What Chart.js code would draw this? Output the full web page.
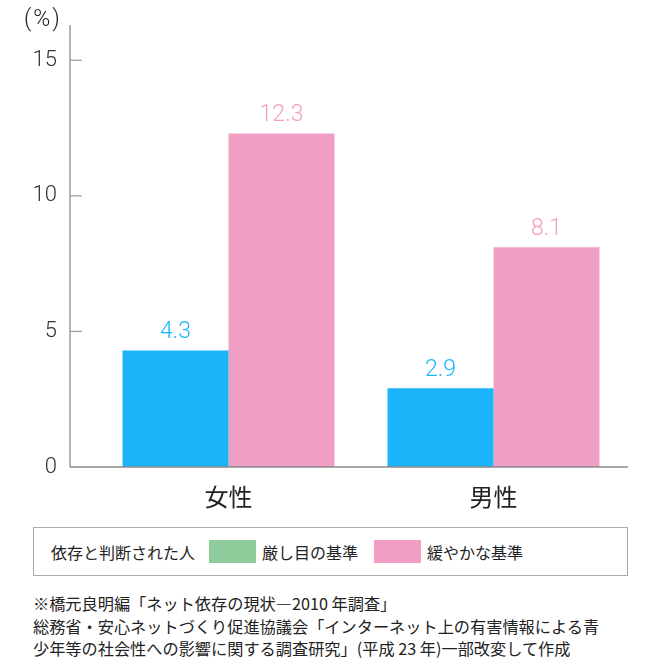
<!DOCTYPE html>
<html>
<head>
<meta charset="utf-8">
<script src="https://cdn.jsdelivr.net/npm/chart.js@4"></script>
<style>
  body { margin: 0; background: #fff; font-family: "Noto Sans CJK JP", sans-serif; color: #222; }
  #wrap { position: relative; width: 651px; height: 515px; }
  #unit { position: absolute; left: 24px; top: 5px; font-size: 23px; letter-spacing: 2px; font-family: Roboto, sans-serif; font-weight: 300; color: #222; }
  #legend { position: absolute; left: 33px; top: 527px; width: 593px; height: 47px; border: 1.5px solid #aaa;
            display: flex; align-items: center; font-size: 16px; }
  #legend .sw { display: inline-block; width: 47px; height: 23px; margin-right: 6px; }
  #note { position: absolute; left: 33px; top: 592px; font-size: 16.2px; line-height: 22.5px; color: #222; }
</style>
</head>
<body>
<div id="wrap">
  <div id="unit">(%)</div>
  <canvas id="grafico" width="651" height="515"></canvas>
</div>
<div id="legend">
  <span style="margin-left:17px; margin-right:14px;">依存と判断された人</span>
  <span class="sw" style="background:#8dcb9b"></span><span style="margin-right:16px;">厳し目の基準</span>
  <span class="sw" style="background:#f19ec4"></span><span>緩やかな基準</span>
</div>
<div id="note">
  ※橋元良明編「ネット依存の現状―2010 年調査」<br>
  総務省・安心ネットづくり促進協議会「インターネット上の有害情報による青<br>
  少年等の社会性への影響に関する調査研究」(平成 23 年)一部改変して作成
</div>
<script>
var categorias = ["女性", "男性"]
var estrito = [4.3, 2.9]
var moderado = [12.3, 8.1]
var ticks_y = [0, 5, 10, 15]

var azul = "#1bb4fa"
var rosa = "#f19ec4"

// desenha eixos à mão, com marcas para dentro
const eixos = {
    id: "eixos",
    afterDraw(chart) {
        const ctx = chart.ctx
        const y = chart.scales.y
        const x0 = 70
        const base = y.getPixelForValue(0)
        ctx.save()
        ctx.strokeStyle = "#b5b3b3"
        ctx.lineWidth = 2
        ctx.beginPath()
        ctx.moveTo(x0, chart.chartArea.top)
        ctx.lineTo(x0, base)
        ctx.stroke()
        ctx.lineWidth = 1.2
        ctx.strokeStyle = "#999"
        ticks_y.forEach(v => {
            if (v === 0) return
            const p = y.getPixelForValue(v)
            ctx.beginPath()
            ctx.moveTo(x0, p)
            ctx.lineTo(x0 + 12, p)
            ctx.stroke()
        })
        ctx.strokeStyle = "#8a8888"
        ctx.lineWidth = 1.5
        ctx.beginPath()
        ctx.moveTo(x0, base)
        ctx.lineTo(628, base)
        ctx.stroke()

        // rótulos dos valores
        ctx.font = "300 23px Roboto, sans-serif"
        ctx.textAlign = "center"
        ctx.textBaseline = "bottom"
        chart.data.datasets.forEach((ds, i) => {
            chart.getDatasetMeta(i).data.forEach((bar, j) => {
                ctx.fillStyle = ds.backgroundColor
                ctx.fillText(ds.data[j].toFixed(1), bar.x, bar.y - 7)
            })
        })
        ctx.restore()
    }
}

const config = {
    type: "bar",
    data: {
        labels: categorias,
        datasets: [
            { label: "厳し目の基準", data: estrito, backgroundColor: azul },
            { label: "緩やかな基準", data: moderado, backgroundColor: rosa }
        ]
    },
    options: {
        responsive: false,
        animation: false,
        categoryPercentage: 0.8,
        barPercentage: 1.0,
        layout: { padding: { top: 25, right: 25 } },
        plugins: { legend: { display: false }, tooltip: { enabled: false } },
        scales: {
            x: {
                grid: { display: false },
                border: { display: false },
                ticks: { color: "#222", font: { size: 24, family: "'Noto Sans CJK JP', sans-serif" }, padding: 7 },
                afterFit(s) { s.height = 48 }
            },
            y: {
                min: 0,
                max: 16.3,
                // tickLength só serve para afastar os rótulos do eixo
                grid: { display: false, drawTicks: true, tickLength: 39 },
                border: { display: false },
                afterBuildTicks(s) { s.ticks = ticks_y.map(v => ({ value: v })) },
                ticks: { color: "#333", font: { size: 22, family: "Roboto, sans-serif", weight: 300 }, padding: 0 },
                afterFit(s) { s.width = 96 }
            }
        }
    },
    plugins: [eixos]
}

new Chart(document.getElementById("grafico"), config)
</script>
</body>
</html>
